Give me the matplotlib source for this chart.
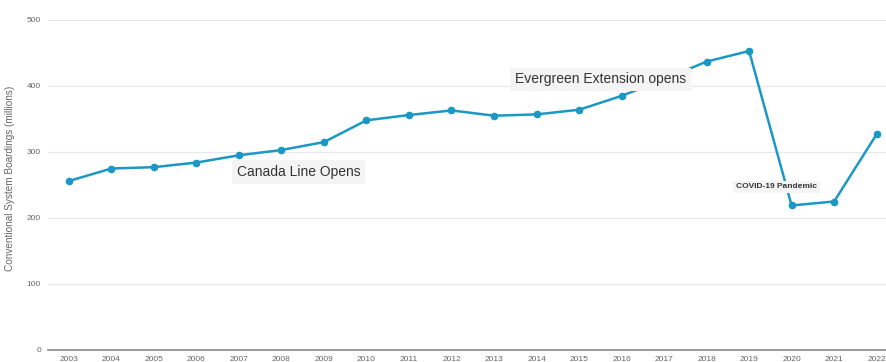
import matplotlib.pyplot as plt

years = list(range(2003, 2023))
boardings = [256, 275, 277, 284, 295, 303, 315, 348, 356, 363,
             355, 357, 364, 385, 410, 437, 453, 219, 225, 327]
year_labels = [str(y) for y in years]

events = ["Canada Line Opens", "Evergreen Extension opens", "COVID-19 Pandemic"]
event_x = [2008.4, 2015.5, 2019.65]
event_y = [270, 410, 247]
event_size = [10, 10, 6]
event_weight = ['normal', 'normal', 'bold']

line_col = '#1b98c4'
grey = '#666666'

plt.rcParams['font.family'] = ['Liberation Sans', 'DejaVu Sans']

fig = plt.figure(figsize=(8.86, 3.62), dpi=100)
ax = fig.add_axes([48 / 886, 12 / 362, 838 / 886, 330 / 362])

ax.plot(years, boardings, '-o', color=line_col, lw=1.8, ms=4.5, zorder=3)

for txt, x, y, s, w in zip(events, event_x, event_y, event_size, event_weight):
    ax.text(x, y, txt, fontsize=s, fontweight=w, color='#333333', ha='center', va='center',
            zorder=4, bbox=dict(boxstyle='square,pad=0.35', fc='#f4f4f4', ec='none'))

ax.set_ylim(0, 500)
ax.set_xlim(2002.51, 2022.22)
ax.set_yticks([0, 100, 200, 300, 400, 500])
ax.set_xticks(years)
ax.set_xticklabels(year_labels)
ax.tick_params(axis='both', length=0, labelsize=6, labelcolor=grey)
ax.tick_params(axis='x', pad=4)
ax.tick_params(axis='y', pad=5)
ax.grid(axis='y', color='#e8e8e8', lw=0.8)
ax.set_axisbelow(True)
for s in ['top', 'right', 'left']:
    ax.spines[s].set_visible(False)
ax.spines['bottom'].set_color('#888888')
ax.spines['bottom'].set_linewidth(1.2)

ax.set_ylabel('Conventional System Boardings (millions)', fontsize=7.2, color=grey)
ax.yaxis.set_label_coords(-33 / 838, 0.52)

fig.savefig('out.png', dpi=100)
